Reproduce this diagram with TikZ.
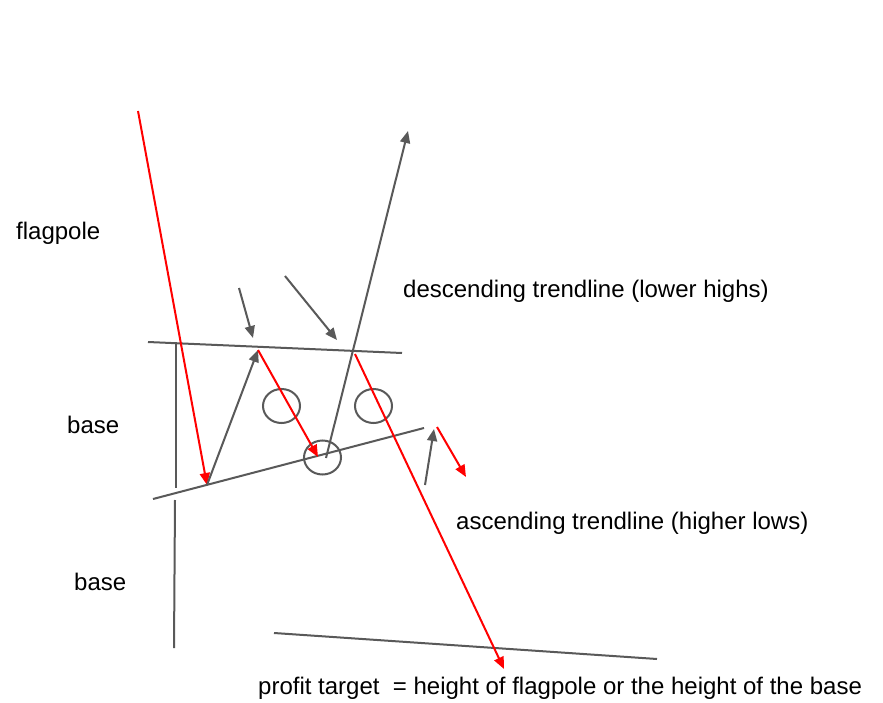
\documentclass[tikz,border=0pt]{standalone}
\usepackage{fontspec}
\setmainfont{Liberation Sans}
\usetikzlibrary{arrows.meta,shapes.geometric}
\definecolor{lgray}{HTML}{595959}
\definecolor{lred}{HTML}{FF0000}
\begin{document}
\begin{tikzpicture}[x=1pt,y=-1pt,
  gline/.style={draw=lgray,line width=2pt},
  rline/.style={draw=lred,line width=2pt},
  tipg/.style={-{Triangle[length=12pt,width=10pt]}},
  lbl/.style={font=\fontsize{24}{28}\selectfont,inner sep=0pt,anchor=west},
  ring/.style={draw=lgray,line width=2pt,ellipse,inner sep=0pt,minimum width=37pt,minimum height=34pt}]
\useasboundingbox[fill=white] (0,0) rectangle (883,703);
% coordinates
\coordinate (fpTop) at (138,111);
\coordinate (fpBot) at (207,485);
\coordinate (hi1) at (258,350);
\coordinate (lo2) at (318,457);
\coordinate (brkS) at (326,458);
\coordinate (brkT) at (408,131);
\coordinate (upL) at (148,342);
\coordinate (upR) at (402,353);
\coordinate (lowL) at (153,499);
\coordinate (lowR) at (424,428);
\coordinate (vA) at (176,343);
\coordinate (vB) at (176,488);
\coordinate (vC) at (175,500);
\coordinate (vD) at (174,648);
\coordinate (a1s) at (239,288);
\coordinate (a1t) at (253,338);
\coordinate (a2s) at (285,276);
\coordinate (a2t) at (337,340);
\coordinate (ptS) at (355,354);
\coordinate (ptT) at (504,669);
\coordinate (sgS) at (425,485);
\coordinate (sgT) at (434,429);
\coordinate (srS) at (437,427);
\coordinate (srT) at (466,477);
\coordinate (btL) at (274,633);
\coordinate (btR) at (657,659);
% circles
\node[ring] (c1) at (281.5,406) {};
\node[ring] (c2) at (373.5,406) {};
\node[ring] (c3) at (322.5,457.5) {};
% trendlines and base lines
\draw[gline] (upL) -- (upR);
\draw[gline] (lowL) -- (lowR);
\draw[gline] (vA) -- (vB);
\draw[gline] (vC) -- (vD);
\draw[gline] (btL) -- (btR);
% moves
\draw[rline,tipg] (fpTop) -- (fpBot);
\draw[gline,tipg] (fpBot) -- (hi1);
\draw[rline,tipg] (hi1) -- (lo2);
\draw[gline,tipg] (brkS) -- (brkT);
\draw[rline,tipg] (ptS) -- (ptT);
% pointers
\draw[gline,tipg] (a1s) -- (a1t);
\draw[gline,tipg] (a2s) -- (a2t);
\draw[gline,tipg] (sgS) -- (sgT);
\draw[rline,tipg] (srS) -- (srT);
% labels
\node[lbl] (tFlag) at (16,233) {flagpole};
\node[lbl] (tBase1) at (67,425) {base};
\node[lbl] (tBase2) at (74,582) {base};
\node[lbl] (tDesc) at (403,291) {descending trendline (lower highs)};
\node[lbl] (tAsc) at (456,523) {ascending trendline (higher lows)};
\node[lbl] (tProf) at (258,688) {profit target\ \ = height of flagpole or the height of the base};
\end{tikzpicture}
\end{document}
